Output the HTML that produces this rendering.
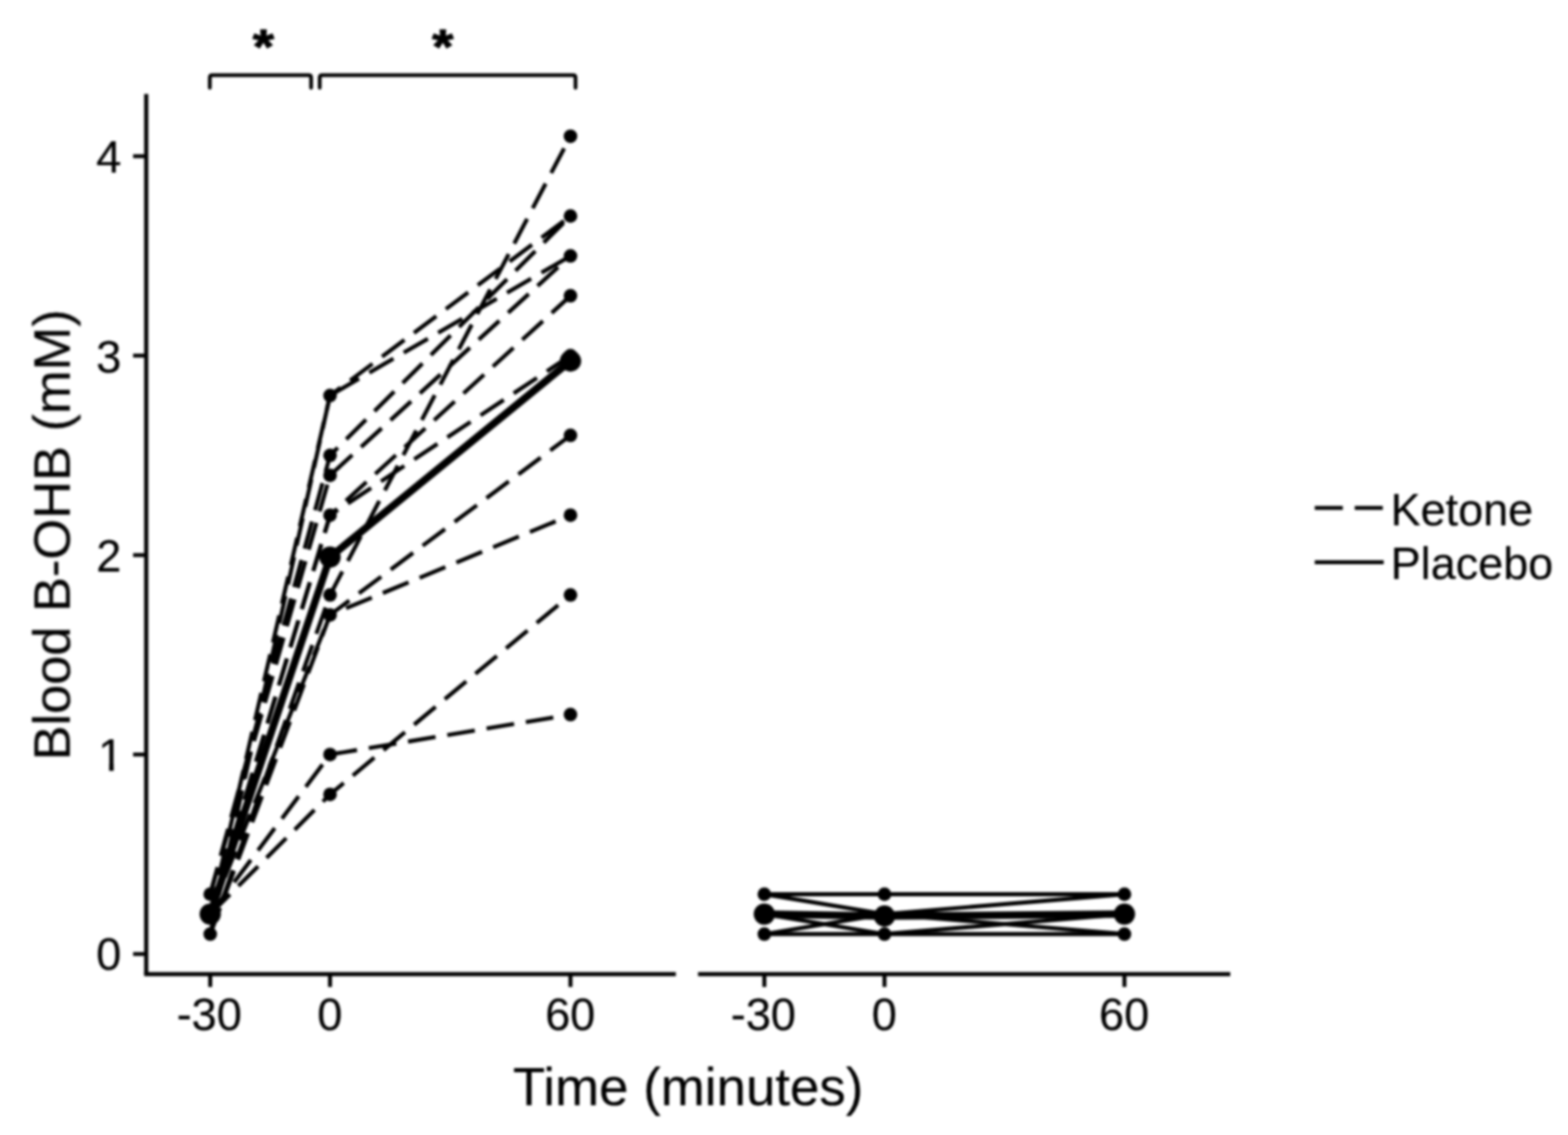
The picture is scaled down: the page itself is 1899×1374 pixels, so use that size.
<!DOCTYPE html>
<html lang="en">
<head>
<meta charset="utf-8">
<title>Blood B-OHB over time: Ketone vs Placebo</title>
<style>
html,body{margin:0;padding:0;background:#fff;}
body{width:1899px;height:1374px;overflow:hidden;font-family:"Liberation Sans",Arial,Helvetica,sans-serif;}
svg{display:block;}
</style>
</head>
<body>
<svg role="img" aria-label="Blood B-OHB (mM) versus time (minutes) for Ketone and Placebo" width="1899" height="1374" viewBox="0 0 1899 1374" font-family="'Liberation Sans', Arial, Helvetica, sans-serif">
<defs><filter id="b" x="-5%" y="-5%" width="110%" height="110%" color-interpolation-filters="sRGB"><feGaussianBlur stdDeviation="1.5"/></filter></defs>
<rect width="1899" height="1374" fill="#fff"/>
<g filter="url(#b)">
<g stroke="#000" stroke-width="5.0" fill="none" stroke-linecap="butt">
<path d="M177.1,113.8 V1179.3"/>
<path d="M174.6,1179.3 H818.5"/>
<path d="M845.4,1179.3 H1490"/>
<path d="M161.2,1154.9 H177.1" stroke-width="4.7"/>
<path d="M161.2,913.4 H177.1" stroke-width="4.7"/>
<path d="M161.2,672.0 H177.1" stroke-width="4.7"/>
<path d="M161.2,430.5 H177.1" stroke-width="4.7"/>
<path d="M161.2,189.1 H177.1" stroke-width="4.7"/>
<path d="M254.6,1179.3 V1194.8" stroke-width="4.8"/>
<path d="M399.7,1179.3 V1194.8" stroke-width="4.8"/>
<path d="M690.9,1179.3 V1194.8" stroke-width="4.8"/>
<path d="M925.7,1179.3 V1194.8" stroke-width="4.8"/>
<path d="M1071.2,1179.3 V1194.8" stroke-width="4.8"/>
<path d="M1361.8,1179.3 V1194.8" stroke-width="4.8"/>
<path d="M254.1,106.2 V94.0 Q254.1,91.0 257.1,91.0 H373.8 Q376.8,91.0 376.8,94.0 V106.2" stroke-linecap="round" stroke="#000" stroke-width="4.5"/>
<path d="M387.2,106.2 V94.0 Q387.2,91.0 390.2,91.0 H694.0 Q697.0,91.0 697.0,94.0 V106.2" stroke-linecap="round" stroke="#000" stroke-width="4.5"/>
</g>
<g stroke="#000" stroke-width="4.9" fill="none" stroke-dasharray="33.75 14.45" stroke-linejoin="round">
<polyline points="254.6,1106.6 399.7,478.8 690.9,261.5"/>
<polyline points="254.6,1130.8 399.7,478.8 690.9,309.8"/>
<polyline points="254.6,1082.5 399.7,551.3 690.9,261.5"/>
<polyline points="254.6,1082.5 399.7,575.4 690.9,309.8"/>
<polyline points="254.6,1106.6 399.7,623.7 690.9,358.1"/>
<polyline points="254.6,1106.6 399.7,623.7 690.9,430.5"/>
<polyline points="254.6,1130.8 399.7,720.3 690.9,164.9"/>
<polyline points="254.6,1106.6 399.7,744.4 690.9,527.1"/>
<polyline points="254.6,1130.8 399.7,744.4 690.9,623.7"/>
<polyline points="254.6,1106.6 399.7,913.4 690.9,865.1"/>
<polyline points="254.6,1106.6 399.7,961.7 690.9,720.3"/>
</g>
<g stroke="#000" stroke-width="4.9" fill="none" stroke-linejoin="round">
<polyline points="925.7,1082.5 1071.2,1082.5 1361.8,1082.5"/>
<polyline points="925.7,1082.5 1071.2,1106.6 1361.8,1082.5"/>
<polyline points="925.7,1106.6 1071.2,1106.6 1361.8,1106.6"/>
<polyline points="925.7,1106.6 1071.2,1130.8 1361.8,1106.6"/>
<polyline points="925.7,1130.8 1071.2,1106.6 1361.8,1130.8"/>
<polyline points="925.7,1130.8 1071.2,1130.8 1361.8,1130.8"/>
<polyline points="925.7,1106.6 1071.2,1106.6 1361.8,1106.6"/>
<polyline points="925.7,1106.6 1071.2,1106.6 1361.8,1106.6"/>
</g>
<g stroke="#000" stroke-width="9.0" fill="none" stroke-linejoin="round">
<polyline points="254.6,1106.6 399.7,674.4 690.9,437.0"/>
<polyline points="925.7,1106.6 1071.2,1109.0 1361.8,1106.6"/>
</g>
<g fill="#000">
<circle cx="254.6" cy="1106.6" r="8.25"/>
<circle cx="399.7" cy="478.8" r="8.25"/>
<circle cx="690.9" cy="261.5" r="8.25"/>
<circle cx="254.6" cy="1130.8" r="8.25"/>
<circle cx="690.9" cy="309.8" r="8.25"/>
<circle cx="254.6" cy="1082.5" r="8.25"/>
<circle cx="399.7" cy="551.3" r="8.25"/>
<circle cx="399.7" cy="575.4" r="8.25"/>
<circle cx="399.7" cy="623.7" r="8.25"/>
<circle cx="690.9" cy="358.1" r="8.25"/>
<circle cx="690.9" cy="430.5" r="8.25"/>
<circle cx="399.7" cy="720.3" r="8.25"/>
<circle cx="690.9" cy="164.9" r="8.25"/>
<circle cx="399.7" cy="744.4" r="8.25"/>
<circle cx="690.9" cy="527.1" r="8.25"/>
<circle cx="690.9" cy="623.7" r="8.25"/>
<circle cx="399.7" cy="913.4" r="8.25"/>
<circle cx="690.9" cy="865.1" r="8.25"/>
<circle cx="399.7" cy="961.7" r="8.25"/>
<circle cx="690.9" cy="720.3" r="8.25"/>
<circle cx="925.7" cy="1082.5" r="8.25"/>
<circle cx="1071.2" cy="1082.5" r="8.25"/>
<circle cx="1361.8" cy="1082.5" r="8.25"/>
<circle cx="1071.2" cy="1106.6" r="8.25"/>
<circle cx="925.7" cy="1106.6" r="8.25"/>
<circle cx="1361.8" cy="1106.6" r="8.25"/>
<circle cx="1071.2" cy="1130.8" r="8.25"/>
<circle cx="925.7" cy="1130.8" r="8.25"/>
<circle cx="1361.8" cy="1130.8" r="8.25"/>
<circle cx="254.6" cy="1106.6" r="12.9"/>
<circle cx="399.7" cy="674.4" r="12.9"/>
<circle cx="690.9" cy="437.0" r="12.9"/>
<circle cx="925.7" cy="1106.6" r="12.9"/>
<circle cx="1071.2" cy="1109.0" r="12.9"/>
<circle cx="1361.8" cy="1106.6" r="12.9"/>
</g>
<g stroke="#000" stroke-width="4.9" fill="none">
<path d="M1592.3,614.9 H1675.8" stroke-dasharray="34 14.4"/>
<path d="M1592.3,680.6 H1675.8"/>
</g>
<g fill="#000" stroke="#000" stroke-width="0.2" stroke-linejoin="round">
<text transform="translate(146.80,1174.40)" font-size="54.7" text-anchor="end">0</text>
<text transform="translate(149.10,933.10)" font-size="54.7" text-anchor="end">1</text>
<rect x="115.41" y="926.9" width="17" height="9" fill="#fff" stroke="none"/>
<rect x="137.46" y="926.9" width="15" height="9" fill="#fff" stroke="none"/>
<rect x="132.41" y="925.1" width="5.05" height="8.10" stroke="none"/>
<text transform="translate(146.80,692.40)" font-size="54.7" text-anchor="end">2</text>
<text transform="translate(146.80,450.80)" font-size="54.7" text-anchor="end">3</text>
<text transform="translate(146.80,208.70)" font-size="54.7" text-anchor="end">4</text>
<text transform="translate(253.40,1247.00)" font-size="54.7" text-anchor="middle">-30</text>
<text transform="translate(399.40,1247.00)" font-size="54.7" text-anchor="middle">0</text>
<text transform="translate(690.60,1247.00)" font-size="54.7" text-anchor="middle">60</text>
<text transform="translate(924.50,1247.00)" font-size="54.7" text-anchor="middle">-30</text>
<text transform="translate(1070.90,1247.00)" font-size="54.7" text-anchor="middle">0</text>
<text transform="translate(1361.50,1247.00)" font-size="54.7" text-anchor="middle">60</text>
<text transform="translate(833.50,1337.60)" font-size="64" text-anchor="middle">Time (minutes)</text>
<text transform="translate(84.6,647.6) rotate(-90)" font-size="63.7" letter-spacing="-0.15" text-anchor="middle">Blood B-OHB (mM)</text>
<text transform="translate(1684.20,635.80) scale(1.0,1.025)" font-size="54.5" text-anchor="start">Ketone</text>
<text transform="translate(1684.20,700.90) scale(1.0,1.025)" font-size="54.5" text-anchor="start">Placebo</text>
</g>
<g fill="#000" stroke="#000" stroke-width="1.1" stroke-linejoin="round" font-weight="bold">
<text transform="translate(318.90,77.30) scale(1.06,0.93)" font-size="63" text-anchor="middle">*</text>
<text transform="translate(536.30,77.30) scale(1.06,0.93)" font-size="63" text-anchor="middle">*</text>
</g>
</g>
</svg>
</body>
</html>
